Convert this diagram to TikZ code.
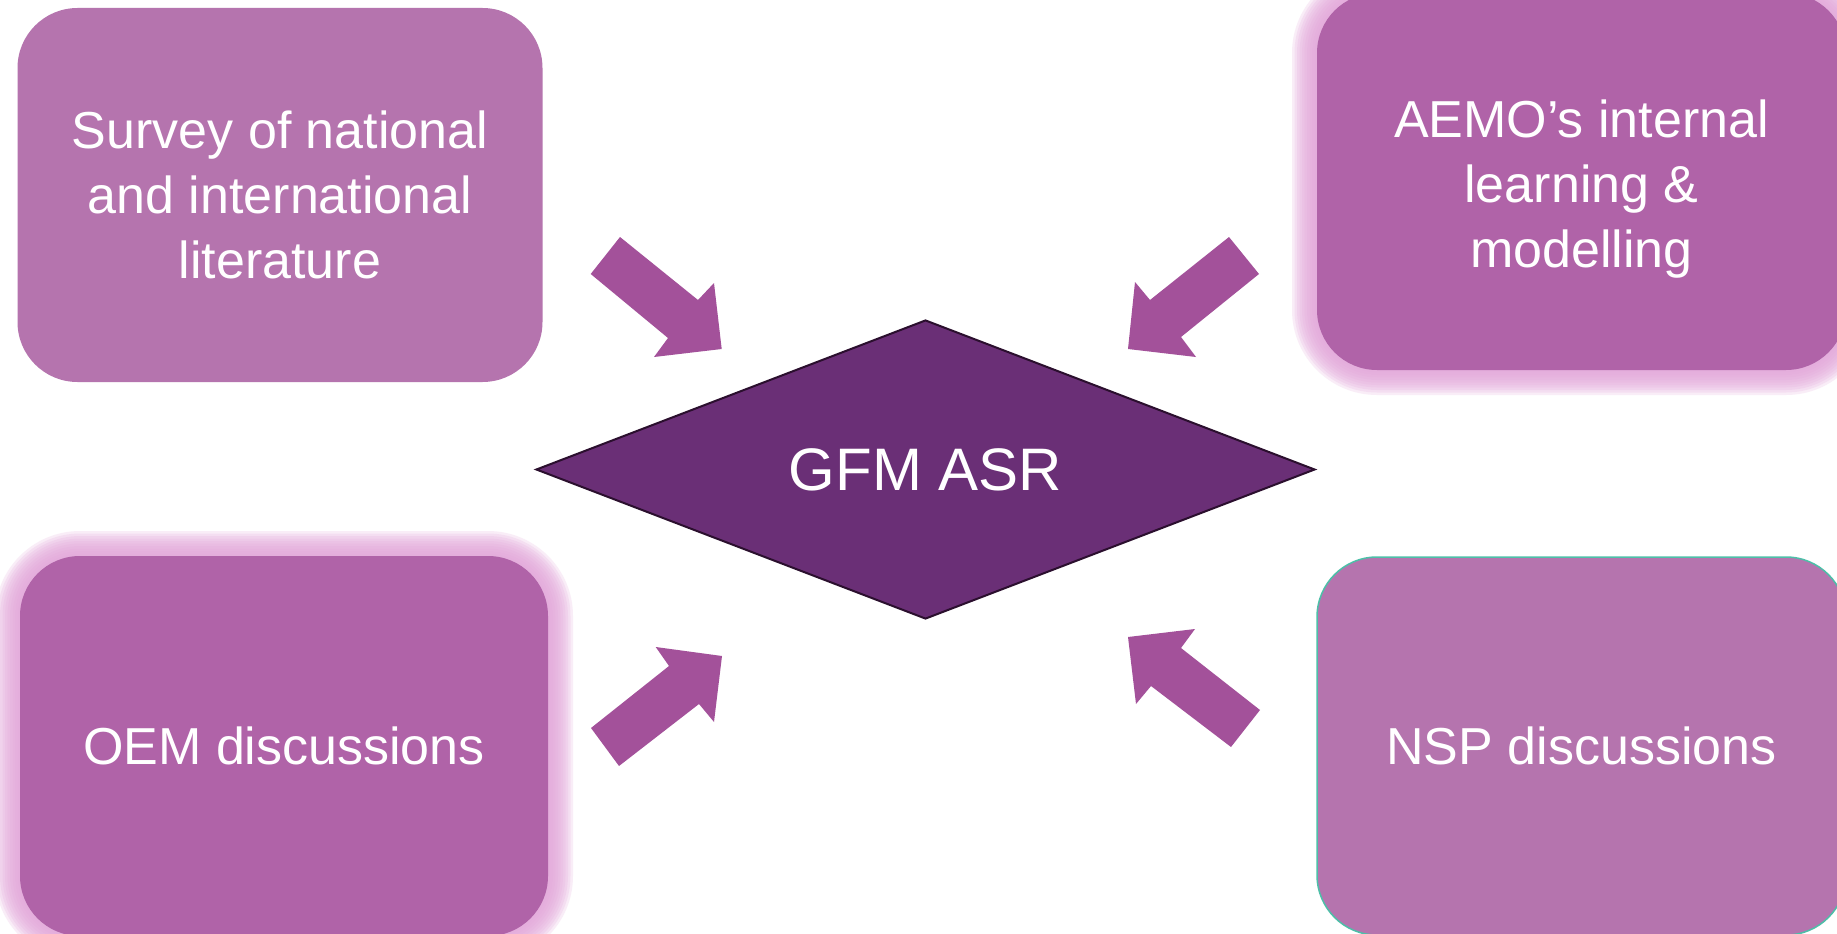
\documentclass[tikz,border=0pt]{standalone}
\usepackage{fontspec}
\setmainfont{Liberation Sans}
\usetikzlibrary{shapes.geometric}
\definecolor{boxA}{HTML}{B574AE}
\definecolor{boxB}{HTML}{B063A8}
\definecolor{glowc}{HTML}{E3A6DA}
\definecolor{arrowc}{HTML}{A3519A}
\definecolor{diamc}{HTML}{6A2F76}
\definecolor{diamb}{HTML}{2B0F2E}
\definecolor{tealb}{HTML}{4DBFA8}
\tikzset{
  srcbox/.style={rectangle, rounded corners=60pt, inner sep=0pt, text=white,
    align=center, font=\fontsize{52}{65}\selectfont},
  boxtext/.style={inner sep=0pt, text=white, align=center, font=\fontsize{52}{65}\selectfont},
  blockarrow/.style={fill=arrowc},
  glowlayer/.style={fill=glowc, opacity=0.2},
}
\begin{document}
\begin{tikzpicture}[x=1pt,y=-1pt]
\clip (0,0) rectangle (1837,934);
\fill[white] (0,0) rectangle (1837,934);
% glows
\foreach \e in {2.5,5,...,25} {
  \pgfmathsetmacro\rr{60+\e}
  \fill[glowlayer, rounded corners=\rr pt] ({1317-\e},{-7-\e}) rectangle ({1846+\e},{370+\e});
  \fill[glowlayer, rounded corners=\rr pt] ({20-\e},{556-\e}) rectangle ({548+\e},{936+\e});
}
% boxes
\node[srcbox, fill=boxA, minimum width=525pt, minimum height=374pt] (survey) at (280,195)
  {Survey of national\\and international\\literature};
\node[srcbox, fill=boxB, minimum width=529pt, minimum height=377pt] (aemo) at (1581.5,181.5) {};
\node[boxtext, yshift=-8pt] (aemotext) at (aemo.center)
  {AEMO’s internal\\learning \&\\modelling};
\node[srcbox, fill=boxB, minimum width=528pt, minimum height=380pt] (oem) at (284,746)
  {OEM discussions};
\node[srcbox, fill=boxA, draw=tealb, line width=1.5pt, minimum width=529pt, minimum height=378pt] (nsp) at (1581.5,746)
  {NSP discussions};
% diamond
\node[diamond, aspect=2.6, fill=diamc, draw=diamb, line width=2pt, minimum width=779pt,
  minimum height=299pt, inner sep=0pt, text=white, font=\fontsize{60}{72}\selectfont]
  (gfm) at (925.5,469.5) {GFM ASR};
% block arrows
\fill[blockarrow] (620,237) -- (698,300) -- (714,283) -- (721.7,349) -- (654,357) -- (668,338) -- (590.7,274) -- cycle;
\fill[blockarrow] (1229,237) -- (1150,300) -- (1135,282) -- (1128,349) -- (1196,357) -- (1181,337) -- (1259,274) -- cycle;
\fill[blockarrow] (722,656) -- (714,722) -- (699,704) -- (619,766) -- (591,728) -- (669,666) -- (655.7,647) -- cycle;
\fill[blockarrow] (1128,637) -- (1195,629) -- (1181,648) -- (1260,710) -- (1231,747) -- (1151,686) -- (1136,704) -- cycle;
\end{tikzpicture}
\end{document}
